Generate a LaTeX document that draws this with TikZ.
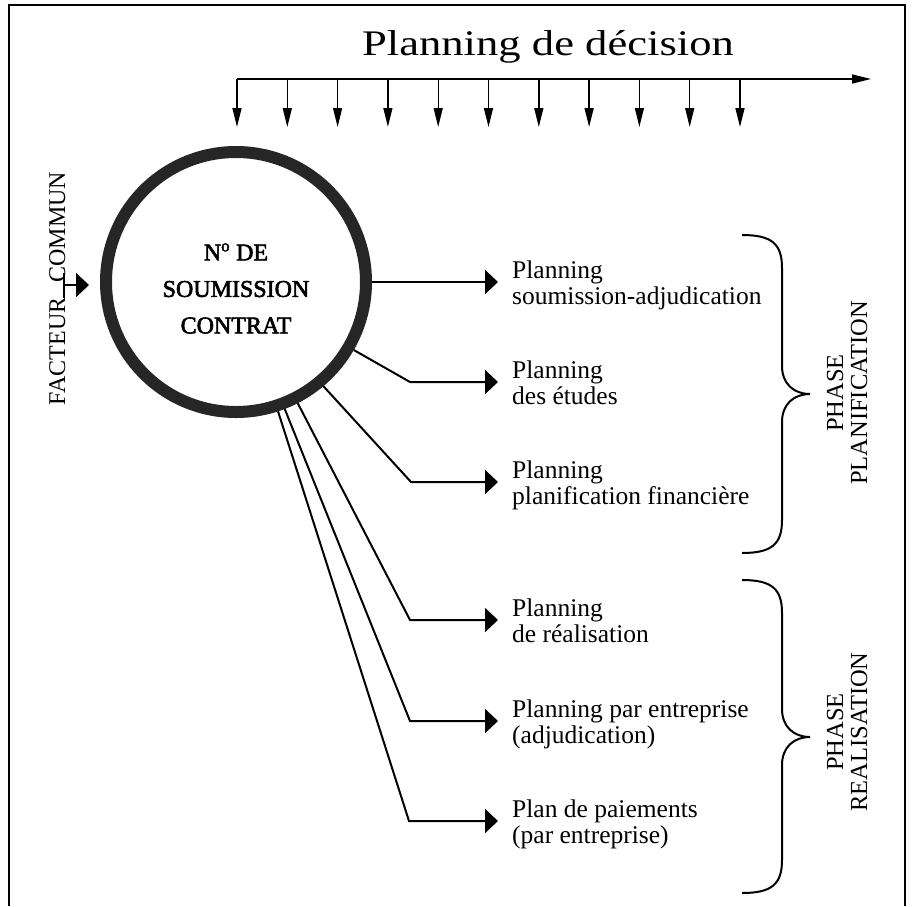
\documentclass[tikz,border=0pt]{standalone}
\usepackage{fontspec}
\setmainfont{Liberation Serif}
\newfontfamily\circfont[FakeBold=2.5]{Liberation Serif}
\usetikzlibrary{arrows.meta,calc}
\begin{document}
\begin{tikzpicture}[x=1pt,y=-1pt,
  lbl/.style={font=\fontsize{25.5}{26}\selectfont, align=left, inner sep=0pt, anchor=west},
  conn/.style={line width=2pt, -{Triangle[length=13pt,width=24pt]}, shorten >=14pt},
  thinarrow/.style={line width=1.4pt, -{Triangle[length=19pt,width=9pt]}},
  bracepath/.style={line width=2pt},
  phase/.style={font=\fontsize{24.5}{24}\selectfont, rotate=90, align=center, inner sep=0pt}
]
\useasboundingbox (0,0) rectangle (912,906);
% frame
\draw[line width=1.5pt] (9,906) -- (9,5) -- (905,5) -- (905,906);

% title and decision timeline
\node[font=\fontsize{36}{36}\selectfont, anchor=base, inner sep=0pt] (title) at (548,55) {\scalebox{1.24}[1]{Planning de décision}};
\coordinate (tl0) at (237,79);
\coordinate (tlend) at (871,79);
\draw[thinarrow] (tl0) -- (tlend);
\foreach \i in {0,...,10}{
  \coordinate (d\i) at ($(tl0)+(50.3*\i,0)$);
  \draw[thinarrow] (d\i) -- ++(0,48);
}

% central circle
\node[circle, draw=black!85, line width=12pt, minimum size=260pt, inner sep=0pt] (c) at (236,282) {};
\node[font=\circfont\fontsize{24}{36.5}\selectfont, align=center, inner sep=0pt] (ct) at (236,288.5) {N\textsuperscript{o} DE\\SOUMISSION\\CONTRAT};

% facteur commun
\node[font=\fontsize{24}{24}\selectfont, rotate=90, anchor=base, inner sep=0pt] (fc) at (65,288.5) {FACTEUR\hspace{15pt}COMMUN};
\coordinate (fb1) at (64,273);
\coordinate (fb2) at (64,298);
\draw[line width=1.6pt] (fb1) -- (fb2);
\coordinate (fa) at (64,285);
\draw[conn, shorten >=11pt] (fa) -- (fa -| c.west);

% labels
\node[lbl] (l1) at (512,285) {Planning\\soumission-adjudication};
\node[lbl] (l2) at (512,382.5) {Planning\\des études};
\node[lbl] (l3) at (512,485) {Planning\\planification financière};
\node[lbl] (l4) at (512,620.5) {Planning\\de réalisation};
\node[lbl] (l5) at (512,724) {Planning par entreprise\\(adjudication)};
\node[lbl] (l6) at (512,824) {Plan de paiements\\(par entreprise)};

% corners
\coordinate (k2) at (410,382);
\coordinate (k3) at (411,482);
\coordinate (k4) at (410,620);
\coordinate (k5) at (410,721);
\coordinate (k6) at (409,821);

% connectors
\draw[conn] (c.east) -- (c.east -| l1.west);
\draw[conn] (c.-30.5) -- (k2) -- (k2 -| l2.west);
\draw[conn] (c.-50) -- (k3) -- (k3 -| l3.west);
\draw[conn] (c.-63.6) -- (k4) -- (k4 -| l4.west);
\draw[conn] (c.-69.3) -- (k5) -- (k5 -| l5.west);
\draw[conn] (c.-72.6) -- (k6) -- (k6 -| l6.west);

% braces
\draw[bracepath] (742,235) .. controls (772,235) and (782,244) .. (782,268) -- (782,366)
  .. controls (782,384) and (794,394) .. (810,394)
  .. controls (794,394) and (782,404) .. (782,422) -- (782,520)
  .. controls (782,544) and (772,553) .. (742,553);
\draw[bracepath] (742,580) .. controls (772,580) and (782,589) .. (782,613) -- (782,709)
  .. controls (782,727) and (794,737) .. (810,737)
  .. controls (794,737) and (782,747) .. (782,765) -- (782,860)
  .. controls (782,884) and (772,893) .. (742,893);

% phase labels
\node[phase] (p1) at (847,393) {PHASE\\PLANIFICATION};
\node[phase] (p2) at (847,732) {PHASE\\REALISATION};
\end{tikzpicture}
\end{document}
